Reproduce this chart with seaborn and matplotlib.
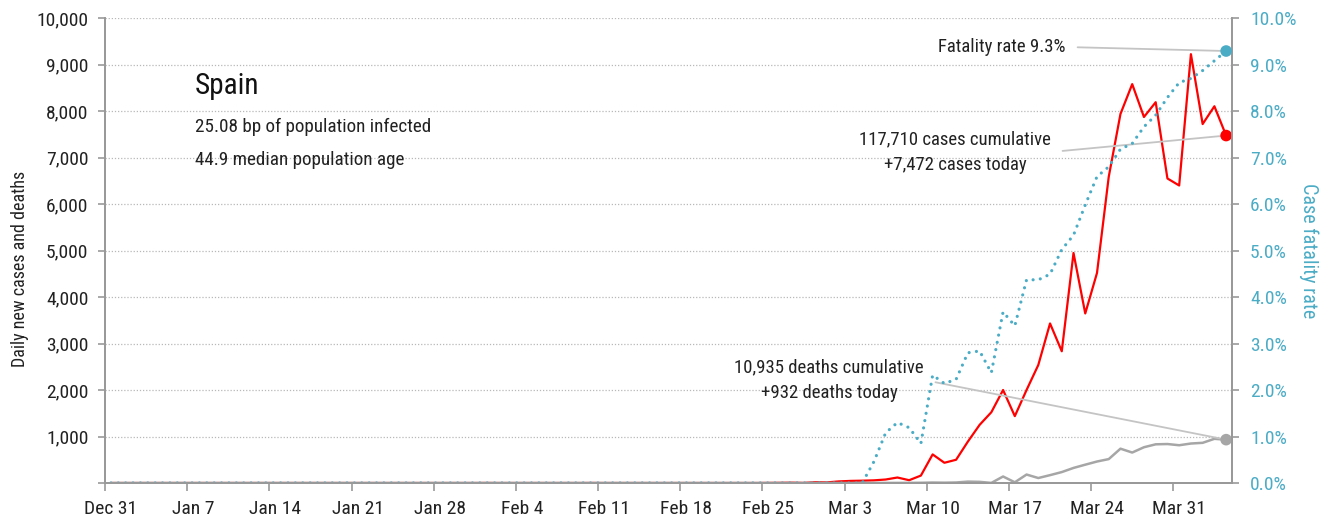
import matplotlib
matplotlib.use("Agg")
import matplotlib.pyplot as plt
import matplotlib.transforms as mtransforms
from matplotlib.ticker import FuncFormatter, MultipleLocator
import pandas as pd
import seaborn as sns

# dates of the series (one value per day)
days = pd.date_range("2019-12-31", "2020-04-04", freq="D")

# daily new cases
cases_dec = [0]
cases_jan = [0] * 31
cases_feb = [1, 0, 0, 0, 0, 0, 0, 0, 0, 1, 0, 0, 0, 0, 0, 0, 0, 0, 0, 0,
             0, 0, 0, 0, 2, 4, 7, 2, 17]
cases_mar = [13, 34, 45, 50, 57, 75, 118, 60, 160, 615, 435, 500, 890, 1250,
             1522, 2000, 1438, 2000, 2538, 3431, 2833, 4946, 3646, 4517, 6584,
             7937, 8578, 7871, 8189, 6549, 6398]
cases_apr = [9222, 7719, 8102, 7472]

# daily new deaths
deaths_dec = [0]
deaths_jan = [0] * 31
deaths_feb = [0] * 29
deaths_mar = [0, 0, 0, 0, 1, 2, 2, 3, 5, 10, 7, 11, 30, 25, 2, 140, 15, 182,
              107, 169, 235, 324, 394, 462, 514, 738, 655, 769, 832, 838, 812]
deaths_apr = [849, 864, 950, 932]

# case fatality rate, %
cfr_dec = [0]
cfr_jan = [0] * 31
cfr_feb = [0] * 29
cfr_mar = [0, 0, 0, 0, 0.46, 1.08, 1.30, 1.19, 0.85, 2.32, 2.14, 2.23, 2.80,
           2.84, 2.37, 3.68, 3.38, 4.37, 4.37, 4.49, 5.02, 5.33, 5.98, 6.59,
           6.80, 7.18, 7.30, 7.66, 7.91, 8.29, 8.61]
cfr_apr = [8.70, 8.87, 9.08, 9.29]

country = "Spain"
subtitle_1 = "25.08 bp of population infected"
subtitle_2 = "44.9 median population age"
total_cases = 117710
total_deaths = 10935

df = pd.DataFrame({
    "date": days + pd.Timedelta(hours=12),
    "cases": cases_dec + cases_jan + cases_feb + cases_mar + cases_apr,
    "deaths": deaths_dec + deaths_jan + deaths_feb + deaths_mar + deaths_apr,
    "cfr": cfr_dec + cfr_jan + cfr_feb + cfr_mar + cfr_apr,
})
last = df.iloc[-1]

sns.set_style("white")
plt.rcParams["font.family"] = ["Roboto Condensed", "DejaVu Sans Condensed",
                               "Roboto", "DejaVu Sans"]

RED = "#ff0000"
GREY = "#a6a6a6"
BLUE = "#4bacc6"
AXIS = "#999999"
TEXT = "#222222"

fig = plt.figure(figsize=(13.34, 5.22), dpi=100)
ax = fig.add_axes([105 / 1334, 39 / 522, 1127 / 1334, 465 / 522])

sns.lineplot(data=df, x="date", y="cases", ax=ax, color=RED, lw=1.6)
sns.lineplot(data=df, x="date", y="deaths", ax=ax, color=GREY, lw=1.8)
sns.scatterplot(x=[last["date"]], y=[last["cases"]], ax=ax, color=RED, s=70,
                edgecolor="none", zorder=5)
sns.scatterplot(x=[last["date"]], y=[last["deaths"]], ax=ax, color=GREY, s=70,
                edgecolor="none", zorder=5)

ax2 = ax.twinx()
sns.lineplot(data=df, x="date", y="cfr", ax=ax2, color=BLUE, lw=2.3,
             linestyle=(0, (0.01, 2.3)), dash_capstyle="round")
sns.scatterplot(x=[last["date"]], y=[last["cfr"]], ax=ax2, color=BLUE, s=70,
                edgecolor="none", zorder=5)

ax.set_xlim(pd.Timestamp("2019-12-31"), pd.Timestamp("2020-04-05"))
ax.set_ylim(0, 10000)
ax2.set_ylim(0, 10)

ticks = pd.date_range("2019-12-31", "2020-03-31", freq="7D")
ax.set_xticks(ticks)
ax.set_xticklabels([f"{d:%b} {d.day}" for d in ticks])
ax.yaxis.set_major_locator(MultipleLocator(1000))
ax.yaxis.set_major_formatter(FuncFormatter(lambda v, p: "" if v == 0 else f"{v:,.0f}"))
ax2.yaxis.set_major_locator(MultipleLocator(1))
ax2.yaxis.set_major_formatter(FuncFormatter(lambda v, p: f"{v:.1f}%"))

ax.grid(axis="y", color="#b8b8b8", linestyle=(0, (1, 1.5)), lw=0.9)
ax.set_axisbelow(True)

for a in (ax, ax2):
    a.spines["top"].set_visible(False)
    for s in ("left", "right", "bottom"):
        a.spines[s].set_color(AXIS)
        a.spines[s].set_linewidth(1.3)
    a.set_xlabel("")

ax.tick_params(axis="x", length=6, width=1.2, color=AXIS, labelsize=14,
               labelcolor=TEXT, pad=6, direction="out", bottom=True)
ax.tick_params(axis="y", length=5, width=1.2, color=AXIS, labelsize=14,
               labelcolor=TEXT, pad=7, direction="out", left=True)
ax2.tick_params(axis="y", length=5, width=1.2, color=AXIS, labelsize=14,
                labelcolor=BLUE, pad=8, direction="out", right=True)

# date labels sit half a day right of their tick
shift = mtransforms.ScaledTranslation(6 / 100, 0, fig.dpi_scale_trans)
for lbl in ax.get_xticklabels():
    lbl.set_transform(lbl.get_transform() + shift)

ax.set_ylabel("Daily new cases and deaths", fontsize=13, color=TEXT, labelpad=5)
ax.yaxis.label.set_y(0.46)
ax2.set_ylabel("Case fatality rate", fontsize=14.5, color=BLUE, rotation=270,
               labelpad=16)

fig.text(195 / 1334, 1 - 86 / 522, country, fontsize=21, color="#111111",
         va="center", ha="left")
fig.text(195 / 1334, 1 - 127 / 522, subtitle_1, fontsize=13.8, color=TEXT,
         va="center", ha="left")
fig.text(195 / 1334, 1 - 160 / 522, subtitle_2, fontsize=13.8, color=TEXT,
         va="center", ha="left")

leader = dict(arrowstyle="-", color="#c4c4c4", lw=1.3, shrinkA=6, shrinkB=0,
              relpos=(1, 0.5))
ax2.annotate(f"Fatality rate {last['cfr']:.1f}%", xy=(last["date"], last["cfr"]),
             xycoords="data", xytext=(1066, 522 - 47), textcoords="figure pixels",
             ha="right", va="center", fontsize=13.5, color=TEXT,
             arrowprops=leader)
ax.annotate(f"{total_cases:,} cases cumulative\n+{int(last['cases']):,} cases today",
            xy=(last["date"], last["cases"]), xycoords="data",
            xytext=(1051, 522 - 152), textcoords="figure pixels",
            ha="right", va="center", multialignment="center", fontsize=13.5,
            color=TEXT, linespacing=1.5, arrowprops=leader)
ax.annotate(f"{total_deaths:,} deaths cumulative\n+{int(last['deaths']):,} deaths today",
            xy=(last["date"], last["deaths"]), xycoords="data",
            xytext=(924, 522 - 380), textcoords="figure pixels",
            ha="right", va="center", multialignment="center", fontsize=13.5,
            color=TEXT, linespacing=1.5, arrowprops=leader)

fig.savefig("out.png", dpi=100, facecolor="white")
